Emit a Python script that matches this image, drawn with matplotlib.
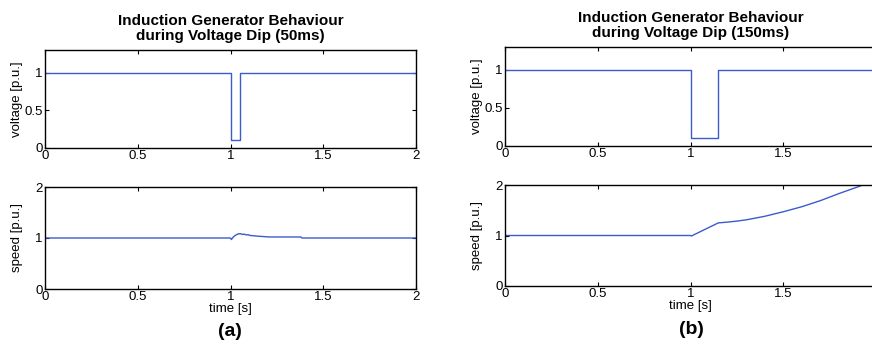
import matplotlib
matplotlib.use("Agg")
import matplotlib.pyplot as plt

plt.rcParams['font.family'] = ['Liberation Sans', 'DejaVu Sans']

LINE = '#3a5ccc'

# ---- case (a): 50 ms dip ----
t_volt_a = [0.0, 1.0, 1.0, 1.05, 1.05, 2.0]
volt_a = [1.0, 1.0, 0.1, 0.1, 1.0, 1.0]

t_speed_a = [0.0, 1.0, 1.005, 1.015, 1.025, 1.035, 1.045, 1.05, 1.055, 1.065,
             1.075, 1.085, 1.095, 1.105, 1.12, 1.135, 1.15, 1.17, 1.19, 1.21,
             1.25, 1.3, 1.38, 1.385, 2.0]
speed_a = [1.0, 1.0, 0.97, 1.02, 1.05, 1.07, 1.085, 1.08, 1.085, 1.07,
           1.075, 1.06, 1.065, 1.05, 1.045, 1.04, 1.035, 1.03, 1.025, 1.02,
           1.02, 1.02, 1.02, 1.0, 1.0]

# ---- case (b): 150 ms dip ----
t_volt_b = [0.0, 1.0, 1.0, 1.15, 1.15, 2.0]
volt_b = [1.0, 1.0, 0.1, 0.1, 1.0, 1.0]

t_speed_b = [0.0, 1.0, 1.005, 1.15, 1.2, 1.25, 1.3, 1.4, 1.5, 1.6, 1.7,
             1.8, 1.9, 2.0]
speed_b = [1.0, 1.0, 0.99, 1.25, 1.265, 1.285, 1.31, 1.38, 1.47, 1.57, 1.69,
           1.83, 1.96, 2.1]

x_ticks_a = [0, 0.5, 1, 1.5, 2]
x_ticklabels_a = ['0', '0.5', '1', '1.5', '2']
x_ticks_b = [0, 0.5, 1, 1.5]
x_ticklabels_b = ['0', '0.5', '1', '1.5']
v_ticks = [0, 0.5, 1]
v_ticklabels = ['0', '0.5', '1']
s_ticks = [0, 1, 2]
s_ticklabels = ['0', '1', '2']

W, H = 872, 348
fig = plt.figure(figsize=(W / 100, H / 100), dpi=100)


def box(l, t, r, b):
    return [l / W, (H - b) / H, (r - l) / W, (b - t) / H]


def style(ax, ylim, xt, xtl, yt, ytl):
    ax.set_xlim(0, 2)
    ax.set_ylim(*ylim)
    ax.set_xticks(xt)
    ax.set_xticklabels(xtl)
    ax.set_yticks(yt)
    ax.set_yticklabels(ytl)
    ax.tick_params(direction='in', length=3, width=0.8, top=True, right=True,
                   labelsize=9.5, pad=1.5, colors='black')
    for s in ax.spines.values():
        s.set_linewidth(1.0)


title_kw = dict(fontsize=11, fontweight='bold', linespacing=1.1, pad=7)
lab_kw = dict(fontsize=9.5)

# left column
ax1 = fig.add_axes(box(45, 50, 416, 148))
ax1.plot(t_volt_a, volt_a, color=LINE, lw=1.0)
style(ax1, (0, 1.3), x_ticks_a, x_ticklabels_a, v_ticks, v_ticklabels)
ax1.set_ylabel('voltage [p.u.]', labelpad=1, **lab_kw)
ax1.set_title('Induction Generator Behaviour\nduring Voltage Dip (50ms)', **title_kw)

ax2 = fig.add_axes(box(45, 187, 416, 289))
ax2.plot(t_speed_a, speed_a, color=LINE, lw=1.0)
style(ax2, (0, 2), x_ticks_a, x_ticklabels_a, s_ticks, s_ticklabels)
ax2.set_ylabel('speed [p.u.]', labelpad=9, **lab_kw)
ax2.set_xlabel('time [s]', labelpad=0, **lab_kw)

# right column (extends past the figure edge)
ax3 = fig.add_axes(box(505, 47, 876, 146))
ax3.plot(t_volt_b, volt_b, color=LINE, lw=1.0)
style(ax3, (0, 1.3), x_ticks_b, x_ticklabels_b, v_ticks, v_ticklabels)
ax3.set_ylabel('voltage [p.u.]', labelpad=1, **lab_kw)
ax3.set_title('Induction Generator Behaviour\nduring Voltage Dip (150ms)', **title_kw)

ax4 = fig.add_axes(box(505, 185, 876, 286))
ax4.plot(t_speed_b, speed_b, color=LINE, lw=1.0)
style(ax4, (0, 2), x_ticks_b, x_ticklabels_b, s_ticks, s_ticklabels)
ax4.set_ylabel('speed [p.u.]', labelpad=9, **lab_kw)
ax4.set_xlabel('time [s]', labelpad=0, **lab_kw)

fig.text(230 / W, 1 - 331 / H, '(a)', ha='center', va='center',
         fontsize=14, fontweight='bold')
fig.text(691 / W, 1 - 329 / H, '(b)', ha='center', va='center',
         fontsize=14, fontweight='bold')

fig.savefig('out.png', dpi=100)
